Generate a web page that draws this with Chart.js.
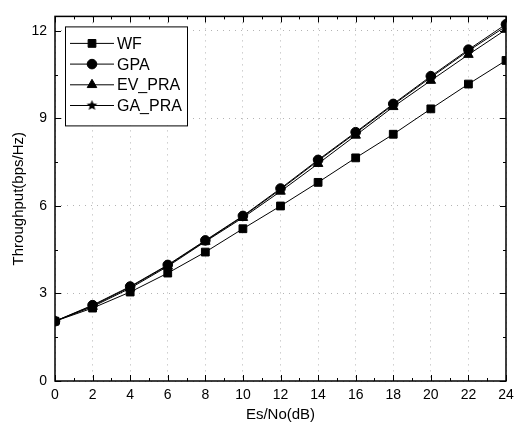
<!DOCTYPE html>
<html><head><meta charset="utf-8">
<script src="https://cdn.jsdelivr.net/npm/chart.js@4/dist/chart.umd.min.js"></script>
<style>html,body{margin:0;padding:0;background:#fff}#wrap{width:522px;height:428px}</style>
</head><body><div id="wrap"><canvas id="c" width="522" height="428"></canvas></div>
<script>
const categories = [0,2,4,6,8,10,12,14,16,18,20,22,24];
const seriesNames = ['WF','GPA','EV_PRA','GA_PRA'];
const wf    = [2.05,2.5,3.05,3.7,4.42,5.22,6.0,6.81,7.65,8.46,9.33,10.18,10.99];
const gpa   = [2.05,2.6,3.24,3.98,4.82,5.66,6.6,7.58,8.53,9.5,10.45,11.36,12.23];
const evpra = [2.05,2.55,3.18,3.93,4.78,5.6,6.5,7.45,8.42,9.4,10.3,11.19,12.05];
const gapra = [2.05,2.58,3.22,3.96,4.8,5.64,6.57,7.55,8.5,9.47,10.41,11.32,12.16];
const yTicks = [0,3,6,9,12];
const xTicks = [0,2,4,6,8,10,12,14,16,18,20,22,24];

function starCanvas(r){
  const s = Math.ceil(r*2+2), cv=document.createElement('canvas');
  cv.width=s; cv.height=s; const g=cv.getContext('2d');
  g.fillStyle='#000'; g.beginPath();
  for(let i=0;i<10;i++){const rr=i%2?r*0.45:r;const a=-Math.PI/2+i*Math.PI/5;
    g.lineTo(s/2+rr*Math.cos(a), s/2+rr*Math.sin(a));}
  g.closePath(); g.fill(); return cv;
}
const star = starCanvas(5.5);
const styles = ['rect','circle','triangle',star];
const radii = [5.5,4.8,5.5,5.5];
const allData = [wf,gpa,evpra,gapra];

const datasets = seriesNames.map((n,i)=>({
  label:n,
  data: categories.map((x,j)=>({x:x,y:allData[i][j]})),
  borderColor:'#000', backgroundColor:'#000', borderWidth:1,
  pointStyle:styles[i], pointRadius:radii[i], pointBorderWidth:1,
  pointBackgroundColor:'#000', pointBorderColor:'#000', tension:0
}));

const FONT = 'Liberation Sans, Arial, sans-serif';

const framePlugin = {
  id:'frame',
  afterDraw(chart){
    const ctx=chart.ctx, a=chart.chartArea, xs=chart.scales.x, ys=chart.scales.y;
    ctx.save();
    ctx.strokeStyle='#000'; ctx.lineWidth=1.5;
    ctx.strokeRect(a.left, a.top, a.right-a.left, a.bottom-a.top);
    ctx.lineWidth=1;
    for(let v=0; v<=24; v+=1){
      const px=Math.round(xs.getPixelForValue(v))+0.5, L = v%2===0?6:3;
      ctx.beginPath(); ctx.moveTo(px,a.bottom); ctx.lineTo(px,a.bottom-L);
      ctx.moveTo(px,a.top); ctx.lineTo(px,a.top+L); ctx.stroke();
    }
    for(let v=0; v<=12.5; v+=1.5){
      const py=Math.round(ys.getPixelForValue(v))+0.5, L = (v%3===0)?6:3;
      ctx.beginPath(); ctx.moveTo(a.left,py); ctx.lineTo(a.left+L,py);
      ctx.moveTo(a.right,py); ctx.lineTo(a.right-L,py); ctx.stroke();
    }
    const bx=a.left+10, by=a.top+10, bw=122, bh=99;
    ctx.fillStyle='#fff'; ctx.fillRect(bx,by,bw,bh);
    ctx.strokeStyle='#000'; ctx.lineWidth=1; ctx.strokeRect(bx+0.5,by+0.5,bw,bh);
    ctx.font='16px '+FONT; ctx.textBaseline='middle'; ctx.fillStyle='#000';
    chart.data.datasets.forEach((d,i)=>{
      const y=by+17+i*20.7;
      ctx.beginPath(); ctx.moveTo(bx+5,y); ctx.lineTo(bx+49,y); ctx.stroke();
      Chart.helpers.drawPoint(ctx,{pointStyle:d.pointStyle,radius:d.pointRadius,borderWidth:1,rotation:0},bx+27,y);
      ctx.fillStyle='#000';
      ctx.fillText(d.label,bx+52,y+1);
    });
    ctx.restore();
  }
};

new Chart(document.getElementById('c'),{
  type:'line',
  data:{datasets:datasets},
  options:{
    responsive:false, animation:false, devicePixelRatio:1,
    layout:{padding:{top:10,right:16,left:6,bottom:0}},
    plugins:{legend:{display:false},tooltip:{enabled:false}},
    scales:{
      x:{type:'linear',min:0,max:24,
        afterFit(s){s.height=47;},
        afterBuildTicks(s){s.ticks=xTicks.map(v=>({value:v}));},
        grid:{color:'#b4b4b4',lineWidth:1,drawTicks:false},
        border:{display:false,dash:[1,5]},
        ticks:{color:'#000',font:{family:FONT,size:14},padding:6,maxRotation:0,autoSkip:false},
        title:{display:true,text:'Es/No(dB)',color:'#000',font:{family:FONT,size:15},padding:{top:6}}
      },
      y:{type:'linear',min:0,max:12.5,
        afterFit(s){s.width=49;},
        afterBuildTicks(s){s.ticks=yTicks.map(v=>({value:v}));},
        grid:{color:'#b4b4b4',lineWidth:1,drawTicks:false},
        border:{display:false,dash:[1,5]},
        ticks:{color:'#000',font:{family:FONT,size:14},padding:8},
        title:{display:true,text:'Throughput(bps/Hz)',color:'#000',font:{family:FONT,size:15},padding:{bottom:2}}
      }
    }
  },
  plugins:[framePlugin]
});
</script></body></html>
